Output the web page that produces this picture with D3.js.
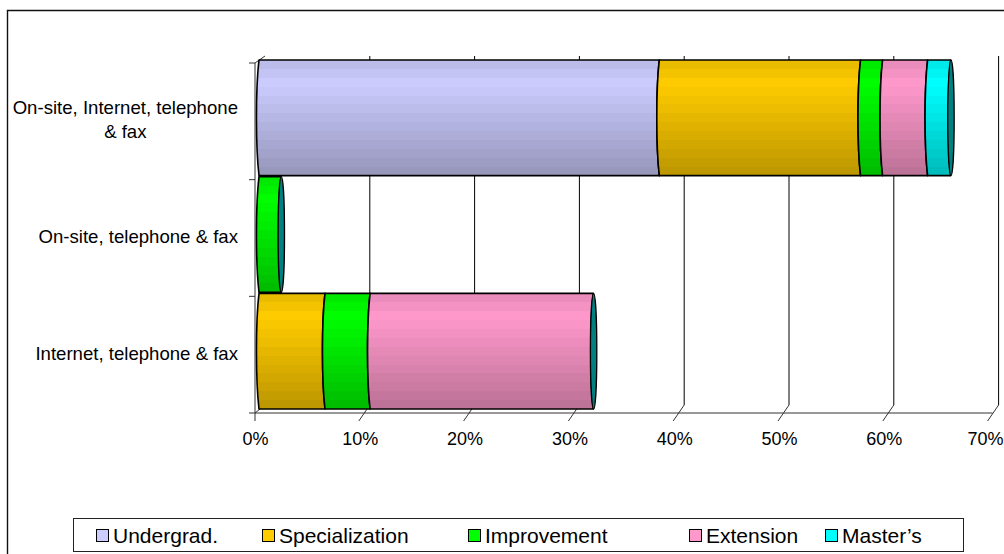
<!DOCTYPE html>
<html>
<head>
<meta charset="utf-8">
<script src="https://cdn.jsdelivr.net/npm/d3@7"></script>
<style>
  body { margin: 0; background: #fff; }
  svg { display: block; }
  text { font-family: "Liberation Sans", Arial, sans-serif; fill: #000; }
</style>
</head>
<body>
<svg id="chart" width="1004" height="554"></svg>
<script>
// Course offerings by delivery mode (% of courses)
const categories = ["On-site, Internet, telephone & fax", "On-site, telephone & fax", "Internet, telephone & fax"];
const categoryLines = [["On-site, Internet, telephone", "& fax"], ["On-site, telephone & fax"], ["Internet, telephone & fax"]];
const seriesNames = ["Undergrad.", "Specialization", "Improvement", "Extension", "Master\u2019s"];
const undergrad      = [38.2, 0,   0];
const specialization = [19.2, 0,   6.3];
const improvement    = [2.1,  2.1, 4.3];
const extension      = [4.3,  0,   21.3];
const masters        = [2.2,  0,   0];
const tickValues = [0, 10, 20, 30, 40, 50, 60, 70];
const seriesColors = ["#ccccff", "#ffcc00", "#00ff00", "#ff99cc", "#00ffff"];
const capColor = "#008080";

const seriesValues = [undergrad, specialization, improvement, extension, masters];
const rows = categories.map((c, i) => {
  const r = { category: c };
  seriesNames.forEach((s, j) => r[s] = seriesValues[j][i]);
  return r;
});
const stacked = d3.stack().keys(seriesNames)(rows);

const svg = d3.select("#chart");

// 3D frame geometry: back wall is shifted up-right from the front plane
const depthY = 8;
const xBack = d3.scaleLinear().domain([0, 70]).range([265, 998.6]);
const xFront = v => xBack(v) - 6;
const xBar = d3.scaleLinear().domain([0, 70]).range([259, 992.6]);
const y = d3.scaleBand().domain(categories).range([63, 413]).padding(0);
const floorY = 413, backFloorY = floorY - depthY, wallTop = 56;

// stepped cylinder shading
const defs = svg.append("defs");
function shade(t) {
  return t < 0.2 ? 0.9 + 0.1 * (t / 0.2) : 1 - 0.27 * ((t - 0.2) / 0.8);
}
seriesColors.forEach((c, i) => {
  const g = defs.append("linearGradient").attr("id", "cyl" + i)
    .attr("x1", 0).attr("y1", 0).attr("x2", 0).attr("y2", 1);
  const steps = 13;
  const base = d3.rgb(c);
  for (let k = 0; k < steps; k++) {
    const f = shade((k + 0.5) / steps);
    const col = d3.rgb(Math.min(255, base.r * f), Math.min(255, base.g * f), Math.min(255, base.b * f)).formatHex();
    g.append("stop").attr("offset", k / steps).attr("stop-color", col);
    g.append("stop").attr("offset", (k + 1) / steps).attr("stop-color", col);
  }
});

// outer chart frame
svg.append("path").attr("d", "M7.5,554 V10.5 H1004")
  .attr("fill", "none").attr("stroke", "#111").attr("stroke-width", 1.4);

// back wall gridlines
svg.append("g").selectAll("line").data(tickValues.slice(1)).join("line")
  .attr("x1", d => xBack(d)).attr("x2", d => xBack(d))
  .attr("y1", wallTop).attr("y2", backFloorY)
  .attr("stroke", "#000").attr("stroke-width", 1);

// floor: front edge, receding lines and ticks
const floor = svg.append("g").attr("stroke", "#333").attr("stroke-width", 1);
floor.append("line").attr("x1", 255).attr("x2", xFront(70)).attr("y1", floorY).attr("y2", floorY);
floor.selectAll(".fl").data(tickValues.slice(1)).join("line").attr("class", "fl")
  .attr("x1", d => xFront(d) - 5).attr("y1", floorY + 8)
  .attr("x2", d => xBack(d)).attr("y2", backFloorY);
floor.append("line").attr("x1", 255).attr("x2", 255).attr("y1", floorY).attr("y2", floorY + 8);
floor.append("line").attr("x1", 255).attr("x2", 265).attr("y1", floorY).attr("y2", backFloorY);

// value axis labels
const xAxisScale = d3.scaleLinear().domain([0, 70]).range([xFront(0) - 4, xFront(70) - 4]);
const xAxis = svg.append("g").attr("transform", `translate(0,${floorY})`)
  .call(d3.axisBottom(xAxisScale).tickValues(tickValues).tickSize(0).tickPadding(19)
    .tickFormat(d => d + "%"));
xAxis.select(".domain").remove();
xAxis.selectAll("text").attr("font-size", 18).attr("font-family", "\"Liberation Sans\", Arial, sans-serif").attr("fill", "#000");
// keep the last label inside the frame's right edge
xAxis.selectAll("text").filter(d => d === 70).attr("text-anchor", "end").attr("x", 1003 - xAxisScale(70));

// category axis (left wall edge)
const bounds = [63].concat(categories.map(c => y(c) + y.bandwidth()));
const left = svg.append("g").attr("stroke", "#333").attr("stroke-width", 1);
left.append("line").attr("x1", 255).attr("x2", 255).attr("y1", 63).attr("y2", floorY);
left.append("line").attr("x1", 255).attr("x2", 265).attr("y1", 63).attr("y2", wallTop);
left.selectAll(".tk").data(bounds).join("line").attr("class", "tk")
  .attr("x1", 249).attr("x2", 255).attr("y1", d => d).attr("y2", d => d);

// cylinder segments
const bulge = 3.4;
function segPath(a, b, t, h) {
  const bt = t + h;
  return `M${a},${t} H${b} C${b - bulge},${t + h * 0.25} ${b - bulge},${t + h * 0.75} ${b},${bt} ` +
         `H${a} C${a - bulge},${t + h * 0.75} ${a - bulge},${t + h * 0.25} ${a},${t} Z`;
}
const barTop = c => y(c) - 3;
const barH = y.bandwidth() - 1;
const bars = svg.append("g");
stacked.forEach((layer, i) => {
  bars.append("g").selectAll("path").data(layer.filter(d => d[1] - d[0] > 0)).join("path")
    .attr("d", d => segPath(xBar(d[0]), xBar(d[1]), barTop(d.data.category), barH))
    .attr("fill", `url(#cyl${i})`)
    .attr("stroke", "#000").attr("stroke-width", 1.6).attr("stroke-linejoin", "round");
});
// end caps of each stack
const topLayer = stacked[stacked.length - 1];
bars.append("g").selectAll("ellipse").data(topLayer).join("ellipse")
  .attr("cx", d => xBar(d[1]) + 0.3)
  .attr("cy", d => barTop(d.data.category) + barH / 2)
  .attr("rx", 3.2).attr("ry", barH / 2)
  .attr("fill", capColor).attr("stroke", "#000").attr("stroke-width", 1.3);

// category labels: block right-aligned, lines centred within block
const labG = svg.append("g").attr("font-size", 18.6);
categoryLines.forEach((lines, i) => {
  const cy = y(categories[i]) + y.bandwidth() / 2 - 1;
  const t = labG.append("text").attr("text-anchor", "middle");
  const n = lines.length;
  lines.forEach((ln, k) => {
    t.append("tspan").attr("y", cy + 6 + (k - (n - 1) / 2) * 24).text(ln);
  });
  let w = 0;
  t.selectAll("tspan").each(function () { w = Math.max(w, this.getComputedTextLength()); });
  t.selectAll("tspan").attr("x", 238 - w / 2);
});

// legend
const leg = svg.append("g");
leg.append("rect").attr("x", 73.5).attr("y", 518.5).attr("width", 890).attr("height", 33)
  .attr("fill", "#fff").attr("stroke", "#222").attr("stroke-width", 1);
const legX = [96, 262, 468, 689, 825];
const items = leg.selectAll("g.item").data(seriesNames).join("g").attr("class", "item")
  .attr("transform", (d, i) => `translate(${legX[i]},529)`);
items.append("rect").attr("x", 0.5).attr("y", 0.5).attr("width", 12).attr("height", 12)
  .attr("fill", (d, i) => seriesColors[i]).attr("stroke", "#000").attr("stroke-width", 1);
items.append("text").attr("x", 17).attr("y", 14).attr("font-size", 21).text(d => d);
</script>
</body>
</html>
